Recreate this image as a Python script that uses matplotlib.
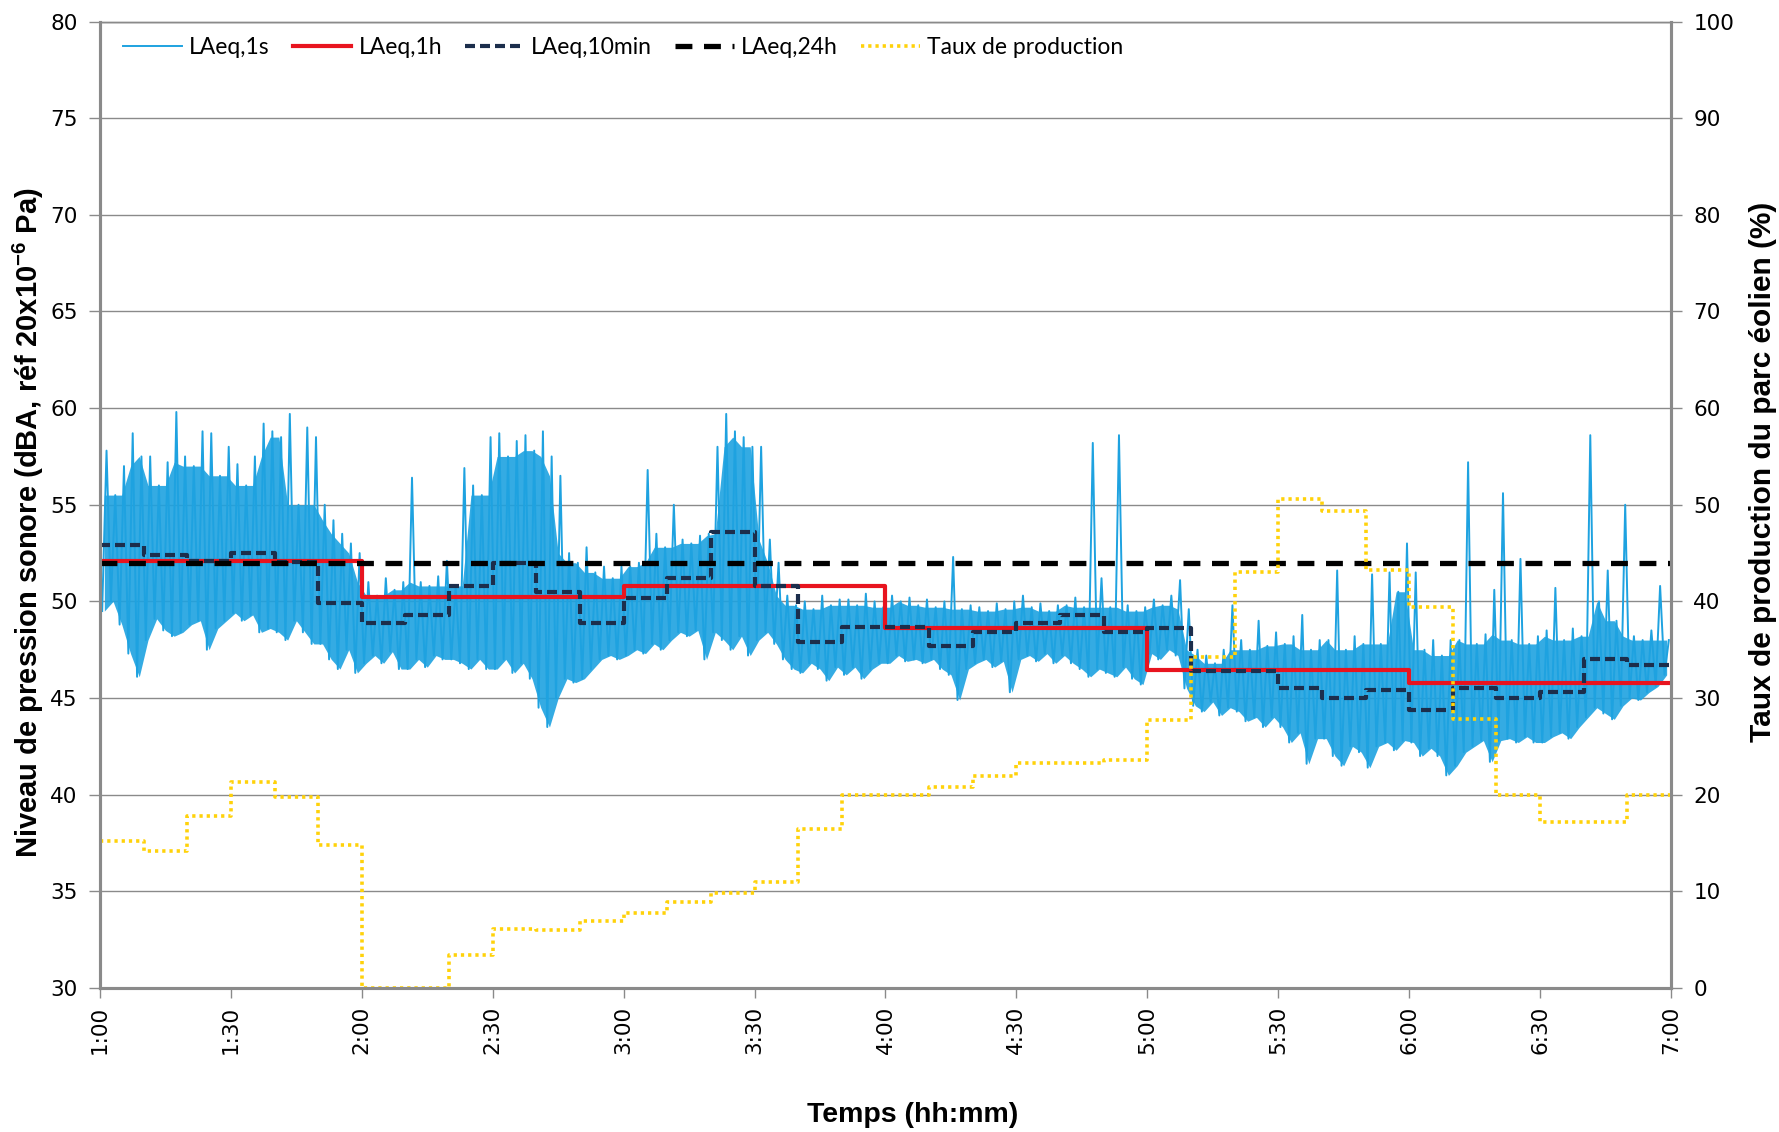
import numpy as np
import matplotlib.pyplot as plt

# axe du temps : 1:00 -> 7:00, valeurs 10 min et 1 h en paliers
ticks_heures = ["1:00", "1:30", "2:00", "2:30", "3:00", "3:30", "4:00",
                "4:30", "5:00", "5:30", "6:00", "6:30", "7:00"]

laeq_24h = 52.0
laeq_1h = [52.1, 50.25, 50.8, 48.6, 46.45, 45.8]
laeq_10min = [52.9, 52.4, 52.1, 52.5, 52.05, 49.9,
              48.9, 49.3, 50.8, 52.0, 50.5, 48.9,
              50.2, 51.2, 53.6, 50.8, 47.9, 48.7,
              48.7, 47.7, 48.4, 48.9, 49.3, 48.4,
              48.6, 46.4, 46.4, 45.5, 45.0, 45.4,
              44.4, 45.5, 45.0, 45.3, 47.0, 46.7]
# taux de production du parc (%), pas de 10 min
taux_prod = [15.2, 14.2, 17.8, 21.3, 19.8, 14.75,
             0.0, 0.0, 3.45, 6.1, 6.0, 6.9,
             7.8, 8.9, 9.8, 11.0, 16.5, 20.0,
             20.0, 20.8, 21.9, 23.3, 23.3, 23.6,
             27.7, 34.2, 43.0, 50.6, 49.4, 43.3,
             39.4, 27.8, 20.0, 17.2, 17.2, 20.0]

# LAeq,1s : enveloppe haute / basse lue par tranche de 2 min
laeq_1s_max = [
    57.8, 55.5, 57.0, 58.7, 57.5,  57.5, 56.0, 57.2, 59.8, 57.5,
    57.0, 58.8, 58.7, 56.5, 58.0,  57.1, 56.0, 57.5, 59.2, 58.8,
    58.5, 59.7, 55.0, 59.0, 58.5,  55.0, 54.2, 53.5, 53.0, 52.5,
    51.0, 50.3, 51.2, 50.6, 51.0,  56.4, 51.0, 50.8, 51.3, 52.1,
    50.8, 56.9, 56.0, 55.5, 58.5,  58.7, 57.5, 58.3, 58.6, 57.8,
    58.8, 57.5, 56.5, 52.5, 52.0,  52.8, 51.5, 51.8, 51.2, 51.8,
    51.8, 52.0, 56.8, 53.5, 52.8,  55.0, 53.2, 53.0, 53.4, 53.5,
    58.0, 59.7, 58.8, 58.5, 58.0,  58.0, 53.2, 52.0, 50.3, 49.8,
    50.0, 49.6, 50.3, 49.8, 50.1,  50.1, 49.8, 50.4, 50.0, 49.7,
    50.3, 50.0, 50.2, 49.8, 50.1,  49.7, 50.0, 52.3, 49.6, 49.8,
    49.7, 49.5, 49.9, 49.6, 50.0,  50.3, 49.7, 49.9, 49.5, 49.8,
    49.8, 50.2, 49.7, 58.2, 51.2,  49.7, 58.6, 49.8, 49.5, 49.7,
    50.1, 49.8, 50.3, 51.1, 49.6,  47.5, 47.2, 46.8, 47.5, 49.8,
    48.0, 47.5, 49.0, 47.7, 48.4,  47.8, 48.2, 49.3, 47.5, 48.0,
    48.0, 51.6, 47.5, 48.2, 47.8,  51.4, 47.8, 51.5, 50.5, 53.0,
    51.5, 47.5, 48.0, 47.2, 48.0,  48.0, 57.2, 47.8, 48.3, 50.6,
    55.6, 48.0, 52.2, 47.8, 48.2,  48.5, 50.7, 48.0, 48.6, 48.2,
    58.6, 50.0, 51.6, 49.0, 55.0,  48.2, 48.0, 48.5, 50.8, 48.0]
laeq_1s_min = [
    49.5, 50.0, 48.8, 47.3, 46.1,  48.0, 49.1, 48.5, 48.2, 48.4,
    48.8, 49.0, 47.5, 48.6, 49.0,  49.4, 49.0, 49.3, 48.4, 48.6,
    48.4, 48.0, 49.0, 48.4, 47.8,  47.8, 47.0, 46.5, 47.5, 46.3,
    46.8, 47.2, 46.8, 47.4, 46.5,  46.5, 47.0, 46.6, 47.2, 47.0,
    47.0, 46.8, 46.5, 47.0, 46.5,  46.5, 47.0, 46.3, 46.8, 46.0,
    44.5, 43.5, 45.0, 46.0, 45.8,  46.0, 46.5, 47.0, 47.2, 47.0,
    47.2, 47.5, 47.3, 47.8, 47.5,  48.0, 48.4, 48.2, 48.5, 47.0,
    48.4, 48.0, 47.5, 48.2, 47.2,  48.0, 48.4, 47.8, 47.0, 46.5,
    46.3, 46.8, 46.5, 45.9, 46.6,  46.2, 46.6, 46.0, 46.5, 46.8,
    46.8, 47.2, 46.9, 47.0, 46.8,  47.0, 46.5, 46.2, 44.9, 46.5,
    46.8, 47.0, 46.6, 46.9, 45.3,  47.0, 47.2, 46.9, 47.3, 46.8,
    47.2, 46.8, 46.5, 46.1, 46.5,  46.3, 46.1, 46.6, 46.0, 45.7,
    47.3, 47.0, 47.5, 47.2, 45.5,  44.6, 44.3, 44.8, 44.1, 44.5,
    44.3, 43.8, 44.0, 43.5, 44.0,  43.5, 42.7, 43.2, 41.6, 42.9,
    42.9, 42.0, 41.5, 42.5, 42.2,  41.4, 42.5, 42.7, 42.3, 42.8,
    42.7, 42.0, 42.4, 42.0, 41.0,  41.5, 42.2, 42.5, 42.8, 41.7,
    42.8, 42.9, 42.7, 43.0, 42.7,  42.7, 43.0, 43.2, 42.9, 43.5,
    44.0, 44.5, 44.2, 43.9, 44.6,  45.0, 44.9, 45.3, 45.6, 46.2]

# ---- mise en forme des series ----
n2 = len(laeq_1s_max)
t_mid = 1 + (2 * np.arange(n2) + 1) / 60
t_1s = np.empty(2 * n2)
t_1s[0::2] = t_mid - 0.5 / 60
t_1s[1::2] = t_mid + 0.5 / 60
y_1s = np.empty(2 * n2)
y_1s[0::2] = laeq_1s_min
y_1s[1::2] = laeq_1s_max

# bord haut de la bande pleine : les pics isoles restent des traits fins
hi = np.array(laeq_1s_max)
hi_pad = np.pad(hi, 1, mode='edge')
band_top = np.minimum(np.minimum(hi_pad[:-2], hi_pad[1:-1]), hi_pad[2:])

t_10 = 1 + np.arange(len(laeq_10min) + 1) * 10 / 60
t_1h = 1 + np.arange(len(laeq_1h) + 1)

plt.rcParams['mathtext.fontset'] = 'custom'
plt.rcParams['mathtext.rm'] = 'Liberation Sans'
plt.rcParams['mathtext.bf'] = 'Liberation Sans:bold'

lab_font = ['Liberation Sans', 'DejaVu Sans']
gris = '#8a8a8a'
bleu = '#1ea2e0'

fig = plt.figure(figsize=(17.79, 11.32), dpi=100)
ax = fig.add_axes([0.0562, 0.1272, 0.8831, 0.8538])
ax2 = ax.twinx()

ax.fill_between(t_mid, laeq_1s_min, band_top, color=bleu, lw=0, alpha=0.9)
l1, = ax.plot(t_1s, y_1s, color=bleu, lw=1.4, label='LAeq,1s')
l2, = ax.step(t_1h, laeq_1h + [laeq_1h[-1]], where='post', color='#e8141f',
              lw=3.0, label='LAeq,1h')
l3, = ax.step(t_10, laeq_10min + [laeq_10min[-1]], where='post',
              color='#1c2e4c', lw=3.0, dashes=(2.4, 1.2), label='LAeq,10min')
l4, = ax.plot([1, 7], [laeq_24h, laeq_24h], color='black', lw=3.8,
              dashes=(3.2, 2.2), label='LAeq,24h')
l5, = ax2.step(t_10, taux_prod + [taux_prod[-1]], where='post',
               color='#ffd20a', lw=2.6, dashes=(0.9, 1.1), label='Taux de production')

ax.set_xlim(1, 7)
ax.set_ylim(30, 80)
ax2.set_ylim(0, 100)
ax.set_yticks(np.arange(30, 81, 5))
ax2.set_yticks(np.arange(0, 101, 10))
ax.set_xticks(np.arange(1, 7.01, 0.5))
ax.set_xticklabels(ticks_heures)

ax.grid(axis='y', color=gris, lw=1.0)
ax.set_axisbelow(True)
for a in (ax, ax2):
    for s in ('left', 'right', 'bottom'):
        a.spines[s].set_color(gris)
        a.spines[s].set_linewidth(2.2)
    a.spines['top'].set_color(gris)
    a.spines['top'].set_linewidth(1.0)

ax.tick_params(axis='y', direction='out', length=8, width=1, color=gris,
               labelsize=15.5, pad=8)
ax2.tick_params(axis='y', direction='out', length=8, width=1, color=gris,
                labelsize=15.5, pad=8)
ax.tick_params(axis='x', direction='out', length=7, width=1, color=gris,
               labelsize=15.5, labelrotation=90, pad=6)

ax.text(-0.0455, 0.481, r'Niveau de pression sonore (dBA, réf 20x10$^{\mathbf{-6}}$ Pa)',
        transform=ax.transAxes, rotation=90, ha='center', va='center',
        fontsize=21, fontweight='bold', family=lab_font)
ax.text(1.0586, 0.534, 'Taux de production du parc éolien (%)',
        transform=ax.transAxes, rotation=90, ha='center', va='center',
        fontsize=21.5, fontweight='bold', family=lab_font)
ax.text(0.5175, -0.1314, 'Temps (hh:mm)', transform=ax.transAxes,
        ha='center', va='center', fontsize=20.5, fontweight='bold', family=lab_font)

ax2.legend(handles=[l1, l2, l3, l4, l5], loc='center left',
           bbox_to_anchor=(0.009, 0.9735), ncol=5, frameon=False,
           prop={'family': 'Lato', 'size': 16.5}, handlelength=2.55,
           handletextpad=0.33, columnspacing=1.0, borderaxespad=0)

fig.savefig('out.png', dpi=100)
